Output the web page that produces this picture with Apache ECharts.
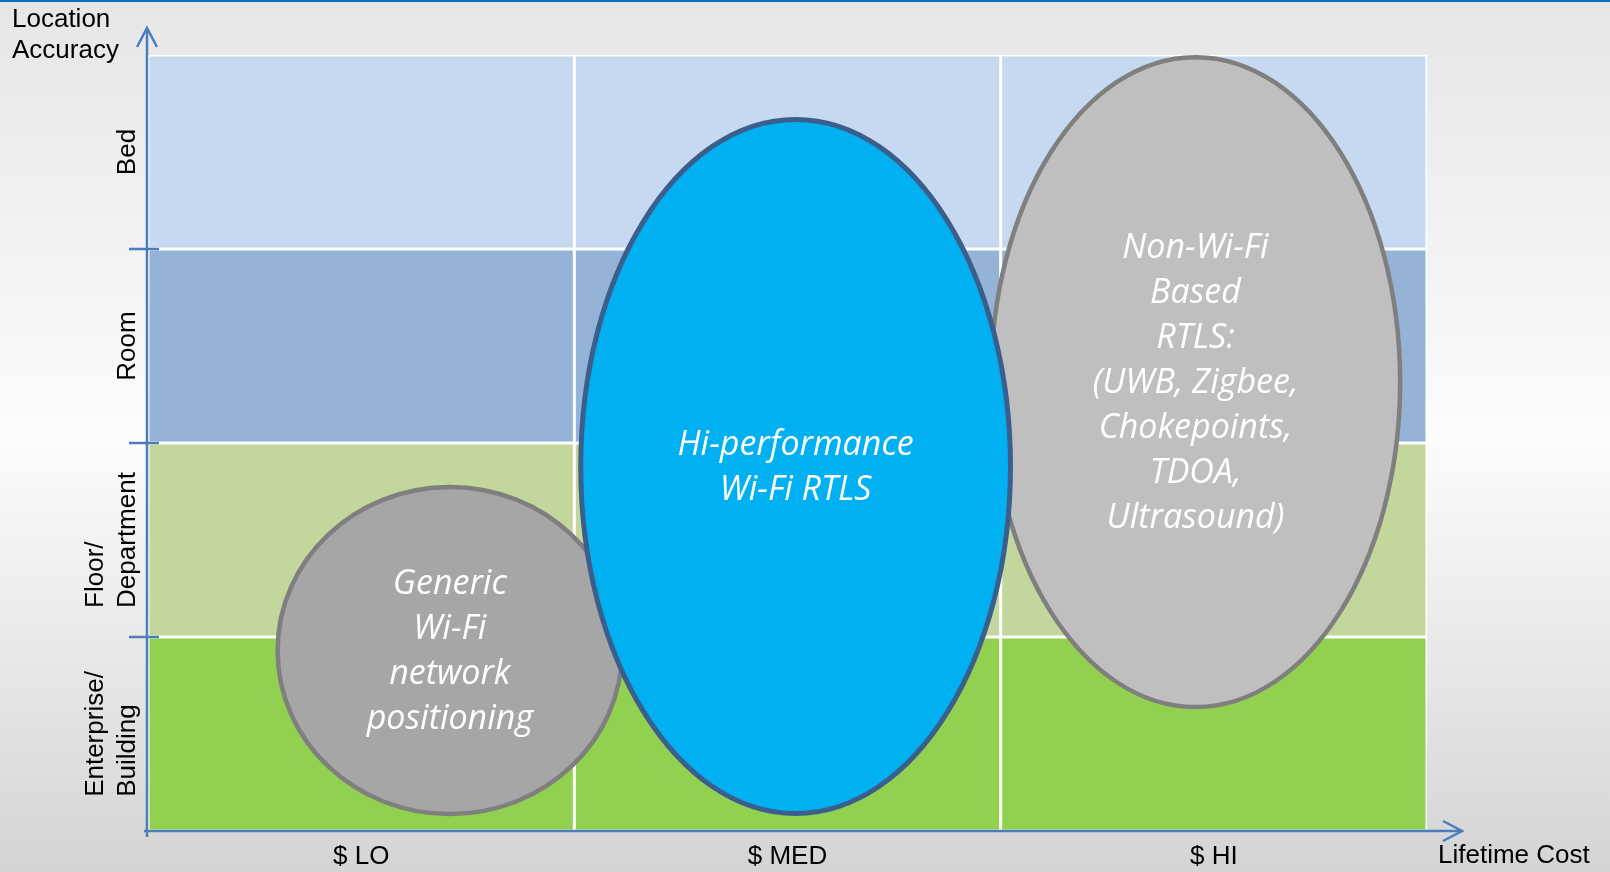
<!DOCTYPE html>
<html><head><meta charset="utf-8">
<script src="https://cdn.jsdelivr.net/npm/echarts@6/dist/echarts.min.js"></script>
<style>html,body{margin:0;padding:0;}#c{width:1610px;height:872px;}</style>
</head><body><div id="c"></div>
<script>
// ---- data ----
const costLabels = ['$ LO', '$ MED', '$ HI'];
const accuracyLabels = ['Enterprise/\nBuilding', 'Floor/\nDepartment', 'Room', 'Bed'];
const rowColors = ['#92d050', '#c3d69b', '#95b3d7', '#c6d9f1'];
// ellipses (draw order: last on top), in axis units (x: cost 0..3, y: accuracy 0..4)
const ellipseTexts = [
  'Generic\nWi-Fi\nnetwork\npositioning',
  'Non-Wi-Fi\nBased\nRTLS:\n(UWB, Zigbee,\nChokepoints,\nTDOA,\nUltrasound)',
  'Hi-performance\nWi-Fi RTLS'
];
const ellipseCx = [0.708, 2.457, 1.519];
const ellipseCy = [0.930, 2.314, 1.879];
const ellipseRx = [0.404, 0.480, 0.504];
const ellipseRy = [0.843, 1.675, 1.789];
const ellipseFill = ['#a6a6a6', '#bfbfbf', '#00b0f0'];
const ellipseStroke = ['#7f7f7f', '#7f7f7f', '#3b5f8c'];

const cellData = [];
for (let r = 0; r < accuracyLabels.length; r++)
  for (let c = 0; c < costLabels.length; c++) cellData.push([c, r]);
const ellipseData = ellipseTexts.map((t, i) => [ellipseCx[i], ellipseCy[i], ellipseRx[i], ellipseRy[i], i]);

const chart = echarts.init(document.getElementById('c'), null, {renderer: 'canvas'});
const labelFont = 'Liberation Sans, Arial, sans-serif';

const option = {
  animation: false,
  backgroundColor: new echarts.graphic.LinearGradient(0, 0, 0, 1, [
    {offset: 0, color: '#e6e6e6'},
    {offset: 0.5, color: '#fcfcfc'},
    {offset: 1, color: '#d4d4d4'}
  ]),
  title: [
    {text: 'Location\nAccuracy', left: 12, top: 4, padding: 0,
     textStyle: {fontFamily: labelFont, fontSize: 26, fontWeight: 'normal', color: '#000', lineHeight: 31}},
    {text: 'Lifetime Cost', left: 1438, top: 843, padding: 0,
     textStyle: {fontFamily: labelFont, fontSize: 26, fontWeight: 'normal', color: '#000'}}
  ],
  grid: {left: 148, top: 55, width: 1279, height: 776, show: true, backgroundColor: '#ffffff', borderWidth: 0},
  xAxis: [
    {type: 'category', data: costLabels, axisLine: {show: false}, axisTick: {show: false},
     splitLine: {show: false},
     axisLabel: {fontFamily: labelFont, fontSize: 26, color: '#000', margin: 13, interval: 0}},
    {type: 'value', min: 0, max: 3, show: false}
  ],
  yAxis: [
    {type: 'category', data: accuracyLabels, axisLine: {show: false}, axisTick: {show: false},
     splitLine: {show: false},
     axisLabel: {rotate: 90, margin: 4, interval: 0, hideOverlap: false, color: '#000',
       fontFamily: labelFont, fontSize: 26, lineHeight: 32,
       formatter: v => v.split('\n').map(s => '{a|' + s + '}').join('\n'),
       rich: {a: {align: 'left', fontFamily: labelFont, fontSize: 26, lineHeight: 32, color: '#000'}}}},
    {type: 'value', min: 0, max: 4, show: false}
  ],
  series: [
    {
      type: 'custom', xAxisIndex: 1, yAxisIndex: 1, silent: true, z: 1,
      data: cellData,
      renderItem: function (params, api) {
        const c = api.value(0), r = api.value(1);
        const tl = api.coord([c, r + 1]);
        const sz = api.size([1, 1]);
        return {type: 'rect',
          shape: {x: tl[0] + 1.5, y: tl[1] + 1.5, width: sz[0] - 3, height: sz[1] - 3},
          style: {fill: rowColors[r]}};
      }
    },
    {
      type: 'custom', xAxisIndex: 1, yAxisIndex: 1, silent: true, z: 3,
      data: ellipseData,
      renderItem: function (params, api) {
        const i = api.value(4);
        const p = api.coord([api.value(0), api.value(1)]);
        const s = api.size([api.value(2), api.value(3)]);
        return {type: 'group', children: [
          {type: 'ellipse', shape: {cx: p[0], cy: p[1], rx: s[0], ry: s[1]},
           style: {fill: ellipseFill[i], stroke: ellipseStroke[i], lineWidth: i === 2 ? 5 : 4.5}},
          {type: 'text', x: p[0], y: p[1] + 1,
           style: {text: ellipseTexts[i], fill: '#ffffff', align: 'center', verticalAlign: 'middle',
             font: 'italic 34px "Open Sans", sans-serif', lineHeight: 45}}
        ]};
      }
    }
  ]
};
chart.setOption(option);

// axis lines with open arrowheads and boundary ticks, positioned from the axes
const o = chart.convertToPixel({seriesIndex: 1}, [0, 0]);
const yTop = chart.convertToPixel({seriesIndex: 1}, [0, accuracyLabels.length]);
const xEnd = chart.convertToPixel({seriesIndex: 1}, [costLabels.length, 0]);
const axisStyle = {stroke: '#4a7ebb', lineWidth: 2.5};
const g = [];
g.push({type: 'rect', shape: {x: 0, y: 0, width: 1610, height: 2}, style: {fill: '#0070c0'}, z: 10});
const ax = o[0] - 1, ay = o[1];
const tipY = yTop[1] - 27, tipX = xEnd[0] + 35;
g.push({type: 'line', shape: {x1: ax, y1: ay + 6, x2: ax, y2: tipY}, style: axisStyle, z: 10});
g.push({type: 'polyline', shape: {points: [[ax - 10, tipY + 19], [ax, tipY], [ax + 10, tipY + 19]]}, style: Object.assign({fill: null}, axisStyle), z: 10});
g.push({type: 'line', shape: {x1: ax - 3, y1: ay, x2: tipX, y2: ay}, style: axisStyle, z: 10});
g.push({type: 'polyline', shape: {points: [[tipX - 19, ay - 10], [tipX, ay], [tipX - 19, ay + 10]]}, style: Object.assign({fill: null}, axisStyle), z: 10});
for (let k = 1; k < accuracyLabels.length; k++) {
  const p = chart.convertToPixel({seriesIndex: 1}, [0, k]);
  g.push({type: 'line', shape: {x1: ax - 18, y1: p[1], x2: ax + 12, y2: p[1]}, style: axisStyle, z: 10});
}
chart.setOption({graphic: g});
</script>
</body></html>
